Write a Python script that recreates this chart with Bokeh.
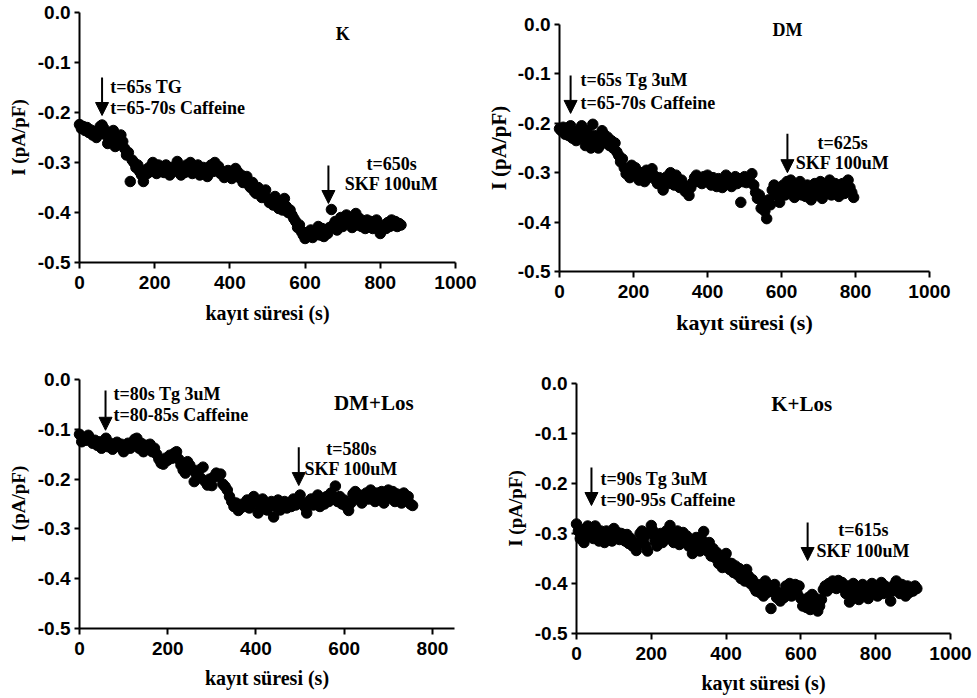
from math import pi
from bokeh.plotting import figure
from bokeh.layouts import column, row
from bokeh.models import Range1d, FixedTicker, NumeralTickFormatter, Label, Arrow, NormalHead
from bokeh.embed import file_html
from bokeh.resources import INLINE

# ---------------- data (current density, pA/pF, sampled every STEP s) ----------------
STEP = 5

k_current = [
    -0.224, -0.232, -0.228, -0.236, -0.230, -0.240, -0.235, -0.245, -0.238, -0.250,
    -0.236, -0.228, -0.225, -0.232, -0.245, -0.262, -0.240, -0.255, -0.236, -0.268,
    -0.250, -0.262, -0.245, -0.258, -0.272, -0.285, -0.280, -0.338, -0.295, -0.300,
    -0.310, -0.305, -0.318, -0.325, -0.338, -0.315, -0.322, -0.310, -0.318, -0.300,
    -0.312, -0.322, -0.305, -0.318, -0.310, -0.320, -0.305, -0.315, -0.325, -0.310,
    -0.318, -0.308, -0.298, -0.315, -0.325, -0.310, -0.320, -0.305, -0.315, -0.300,
    -0.322, -0.308, -0.316, -0.305, -0.325, -0.318, -0.310, -0.322, -0.328, -0.315,
    -0.305, -0.318, -0.300, -0.312, -0.308, -0.322, -0.318, -0.330, -0.325, -0.316,
    -0.320, -0.332, -0.322, -0.312, -0.318, -0.330, -0.325, -0.340, -0.335, -0.328,
    -0.345, -0.350, -0.340, -0.358, -0.362, -0.350, -0.358, -0.370, -0.365, -0.355,
    -0.372, -0.380, -0.375, -0.385, -0.368, -0.378, -0.392, -0.380, -0.395, -0.372,
    -0.388, -0.400, -0.395, -0.405, -0.412, -0.418, -0.430, -0.425, -0.438, -0.445,
    -0.452, -0.440, -0.448, -0.435, -0.450, -0.438, -0.442, -0.428, -0.445, -0.432,
    -0.448, -0.435, -0.442, -0.430, -0.394, -0.425, -0.418, -0.435, -0.420, -0.410,
    -0.428, -0.415, -0.405, -0.422, -0.410, -0.430, -0.418, -0.402, -0.425, -0.412,
    -0.428, -0.420, -0.432, -0.415, -0.425, -0.418, -0.432, -0.425, -0.415, -0.430,
    -0.442, -0.435, -0.425, -0.432, -0.420, -0.428, -0.415, -0.425, -0.418, -0.428,
    -0.422, -0.425,
]

dm_current = [
    -0.211, -0.215, -0.208, -0.222, -0.212, -0.225, -0.205, -0.230, -0.218, -0.235,
    -0.222, -0.212, -0.205, -0.228, -0.245, -0.215, -0.235, -0.250, -0.202, -0.225,
    -0.238, -0.250, -0.230, -0.215, -0.222, -0.240, -0.228, -0.245, -0.235, -0.250,
    -0.240, -0.258, -0.265, -0.278, -0.272, -0.290, -0.302, -0.295, -0.310, -0.285,
    -0.298, -0.290, -0.305, -0.315, -0.300, -0.312, -0.318, -0.295, -0.310, -0.300,
    -0.292, -0.305, -0.315, -0.322, -0.310, -0.325, -0.335, -0.318, -0.308, -0.322,
    -0.300, -0.312, -0.325, -0.305, -0.318, -0.330, -0.315, -0.325, -0.338, -0.328,
    -0.346, -0.330, -0.320, -0.310, -0.305, -0.318, -0.312, -0.322, -0.308, -0.315,
    -0.305, -0.318, -0.325, -0.310, -0.318, -0.328, -0.312, -0.320, -0.330, -0.315,
    -0.305, -0.322, -0.312, -0.328, -0.318, -0.308, -0.322, -0.312, -0.360, -0.318,
    -0.308, -0.320, -0.312, -0.318, -0.302, -0.325, -0.340, -0.352, -0.345, -0.372,
    -0.360, -0.378, -0.393, -0.355, -0.365, -0.335, -0.325, -0.345, -0.330, -0.360,
    -0.340, -0.325, -0.345, -0.318, -0.330, -0.315, -0.335, -0.350, -0.325, -0.340,
    -0.318, -0.345, -0.330, -0.348, -0.325, -0.340, -0.355, -0.335, -0.322, -0.345,
    -0.330, -0.318, -0.352, -0.335, -0.325, -0.342, -0.315, -0.345, -0.330, -0.322,
    -0.340, -0.348, -0.330, -0.322, -0.342, -0.335, -0.315, -0.330, -0.340, -0.350,
]

dmlos_current = [
    -0.110, -0.125, -0.118, -0.122, -0.112, -0.120, -0.128, -0.122, -0.132, -0.125,
    -0.138, -0.130, -0.118, -0.135, -0.128, -0.140, -0.132, -0.126, -0.135, -0.130,
    -0.145, -0.135, -0.128, -0.138, -0.132, -0.120, -0.118, -0.138, -0.128, -0.145,
    -0.132, -0.140, -0.130, -0.145, -0.138, -0.150, -0.160, -0.168, -0.170, -0.158,
    -0.162, -0.152, -0.158, -0.148, -0.145, -0.160, -0.172, -0.182, -0.188, -0.165,
    -0.172, -0.180, -0.205, -0.190, -0.182, -0.198, -0.176, -0.205, -0.212, -0.200,
    -0.213, -0.195, -0.188, -0.195, -0.190, -0.210, -0.215, -0.222, -0.235, -0.245,
    -0.255, -0.248, -0.263, -0.258, -0.250, -0.255, -0.242, -0.258, -0.250, -0.235,
    -0.245, -0.268, -0.255, -0.240, -0.248, -0.262, -0.250, -0.245, -0.276, -0.255,
    -0.242, -0.262, -0.250, -0.245, -0.258, -0.248, -0.255, -0.240, -0.252, -0.245,
    -0.232, -0.248, -0.255, -0.268, -0.245, -0.240, -0.252, -0.245, -0.232, -0.255,
    -0.240, -0.250, -0.235, -0.245, -0.228, -0.240, -0.214, -0.245, -0.235, -0.250,
    -0.242, -0.255, -0.263, -0.248, -0.230, -0.225, -0.240, -0.232, -0.248, -0.238,
    -0.228, -0.240, -0.222, -0.235, -0.245, -0.228, -0.240, -0.225, -0.248, -0.232,
    -0.222, -0.238, -0.225, -0.245, -0.230, -0.238, -0.248, -0.228, -0.240, -0.235,
    -0.250, -0.253,
]

klos_current = [
    -0.281, -0.295, -0.310, -0.300, -0.318, -0.290, -0.285, -0.305, -0.298, -0.310,
    -0.285, -0.300, -0.315, -0.295, -0.302, -0.318, -0.295, -0.310, -0.300, -0.315,
    -0.290, -0.305, -0.298, -0.312, -0.300, -0.308, -0.315, -0.302, -0.320, -0.310,
    -0.325, -0.318, -0.334, -0.320, -0.300, -0.295, -0.310, -0.325, -0.335, -0.300,
    -0.284, -0.295, -0.315, -0.325, -0.308, -0.300, -0.318, -0.305, -0.295, -0.310,
    -0.284, -0.300, -0.318, -0.305, -0.295, -0.322, -0.310, -0.298, -0.315, -0.305,
    -0.325, -0.318, -0.340, -0.330, -0.308, -0.318, -0.335, -0.312, -0.296, -0.320,
    -0.335, -0.318, -0.345, -0.330, -0.348, -0.338, -0.360, -0.345, -0.368, -0.352,
    -0.340, -0.358, -0.372, -0.360, -0.378, -0.365, -0.382, -0.370, -0.390, -0.378,
    -0.395, -0.372, -0.385, -0.400, -0.392, -0.408, -0.415, -0.402, -0.418, -0.408,
    -0.425, -0.395, -0.418, -0.405, -0.450, -0.412, -0.402, -0.428, -0.418, -0.435,
    -0.420, -0.428, -0.405, -0.418, -0.400, -0.425, -0.410, -0.402, -0.420, -0.405,
    -0.430, -0.445, -0.435, -0.448, -0.428, -0.452, -0.422, -0.440, -0.430, -0.455,
    -0.445, -0.432, -0.412, -0.405, -0.415, -0.400, -0.408, -0.395, -0.402, -0.410,
    -0.394, -0.405, -0.398, -0.410, -0.420, -0.405, -0.437, -0.415, -0.400, -0.425,
    -0.410, -0.432, -0.415, -0.402, -0.420, -0.408, -0.430, -0.412, -0.400, -0.418,
    -0.408, -0.425, -0.412, -0.398, -0.420, -0.405, -0.418, -0.410, -0.435, -0.415,
    -0.402, -0.395, -0.410, -0.420, -0.402, -0.412, -0.425, -0.405, -0.418, -0.408,
    -0.415, -0.405, -0.410,
]

y_ticks = [-0.5, -0.4, -0.3, -0.2, -0.1, 0.0]
x_ticks_1000 = [0, 200, 400, 600, 800, 1000]
x_ticks_800 = [0, 200, 400, 600, 800]

x_label = "kayıt süresi (s)"
y_label = "I (pA/pF)"

panels = [
    dict(values=k_current, title="K", xmax=1000, xticks=x_ticks_1000,
         tg=("t=65s TG", "t=65-70s Caffeine"), skf=("t=650s", "SKF 100uM")),
    dict(values=dm_current, title="DM", xmax=1000, xticks=x_ticks_1000,
         tg=("t=65s Tg 3uM", "t=65-70s Caffeine"), skf=("t=625s", "SKF 100uM")),
    dict(values=dmlos_current, title="DM+Los", xmax=850, xticks=x_ticks_800,
         tg=("t=80s Tg 3uM", "t=80-85s Caffeine"), skf=("t=580s", "SKF 100uM")),
    dict(values=klos_current, title="K+Los", xmax=1000, xticks=x_ticks_1000,
         tg=("t=90s Tg 3uM", "t=90-95s Caffeine"), skf=("t=615s", "SKF 100uM")),
]

# ---------------- layout (page pixels) / annotation placement ----------------
# ox, oy: canvas origin on the page; x0px/xmpx: page x of 0 and xmax;
# y0px/y5px: page y of 0.0 and -0.5; xl_dy: x-axis title offset below axis (px)
layout_cfg = [
    dict(ox=0, oy=0, w=480, h=340, x0px=79, xmpx=455, y0px=12, y5px=262,
         xl_size="20px", yl_size="19px", xl_dy=50,
         title_pos=(700, -0.042), title_size="18px",
         a1=(60, -0.13, -0.206), t1=(82, -0.148, -0.19),
         a2=(662, -0.306, -0.382), t2=(830, -0.302, -0.342)),
    dict(ox=480, oy=0, w=496, h=340, x0px=559, xmpx=929, y0px=24, y5px=271,
         xl_size="22px", yl_size="21px", xl_dy=51,
         title_pos=(616, -0.012), title_size="18px",
         a1=(30, -0.103, -0.18), t1=(57, -0.113, -0.158),
         a2=(616, -0.221, -0.30), t2=(765, -0.239, -0.281)),
    dict(ox=0, oy=340, w=480, h=356, x0px=79, xmpx=454, y0px=379, y5px=628,
         xl_size="20px", yl_size="19px", xl_dy=49,
         title_pos=(667, -0.048), title_size="21px",
         a1=(59, -0.022, -0.102), t1=(77, -0.03, -0.072),
         a2=(497, -0.136, -0.213), t2=(616, -0.139, -0.179)),
    dict(ox=480, oy=340, w=496, h=356, x0px=576, xmpx=950, y0px=383, y5px=633,
         xl_size="20px", yl_size="19px", xl_dy=49,
         title_pos=(602, -0.04), title_size="21px",
         a1=(40, -0.168, -0.244), t1=(64, -0.19, -0.232),
         a2=(618, -0.278, -0.354), t2=(767, -0.292, -0.334)),
]

YLAB_DX = 61     # px from y axis to y-axis title centre
SERIF = "Liberation Serif"
SANS = "Liberation Sans"


def make_panel(d, c):
    sx = (c["xmpx"] - c["x0px"]) / d["xmax"]          # px per second
    sy = (c["y5px"] - c["y0px"]) / 0.5                # px per pA/pF
    x_start = -(c["x0px"] - c["ox"]) / sx
    x_end = x_start + c["w"] / sx
    y_end = (c["y0px"] - c["oy"]) / sy
    y_start = y_end - c["h"] / sy
    xs = [i * STEP for i in range(len(d["values"]))]

    p = figure(width=c["w"], height=c["h"], output_backend="svg", toolbar_location=None,
               x_range=Range1d(x_start, x_end), y_range=Range1d(y_start, y_end),
               min_border_left=0, min_border_right=0,
               min_border_top=0, min_border_bottom=0)
    p.outline_line_color = None
    p.grid.visible = False
    p.background_fill_color = "white"
    p.border_fill_color = "white"

    p.scatter(xs, d["values"], size=10.5, marker="circle",
              fill_color="black", line_color="black")

    # axes, drawn at x = 0 and y = -0.5
    p.xaxis.ticker = FixedTicker(ticks=d["xticks"])
    p.xaxis.bounds = (0, d["xmax"])
    p.xaxis.fixed_location = -0.5
    p.yaxis.ticker = FixedTicker(ticks=y_ticks)
    p.yaxis.bounds = (-0.5, 0.0)
    p.yaxis.formatter = NumeralTickFormatter(format="0.0")
    p.yaxis.fixed_location = 0
    for ax in (p.xaxis, p.yaxis):
        ax.axis_line_width = 2
        ax.axis_line_color = "black"
        ax.major_tick_line_width = 2
        ax.major_tick_line_color = "black"
        ax.major_tick_in = 0
        ax.minor_tick_line_color = None
        ax.major_label_text_font = SANS
        ax.major_label_text_font_style = "bold"
        ax.major_label_text_font_size = "19px"
        ax.major_label_text_color = "black"
    p.xaxis.major_tick_out = 6
    p.yaxis.major_tick_out = 5
    p.xaxis.major_label_standoff = 7
    p.yaxis.major_label_standoff = 4

    # axis titles
    p.add_layout(Label(x=d["xmax"] / 2, y=-0.5 - c["xl_dy"] / sy, text=x_label,
                       text_align="center", text_baseline="middle",
                       text_font=SERIF, text_font_style="bold",
                       text_font_size=c["xl_size"], text_color="black"))
    p.add_layout(Label(x=-YLAB_DX / sx, y=-0.25, text=y_label, angle=pi / 2,
                       text_align="center", text_baseline="middle",
                       text_font=SERIF, text_font_style="bold",
                       text_font_size=c["yl_size"], text_color="black"))

    # panel title
    tx, ty = c["title_pos"]
    p.add_layout(Label(x=tx, y=ty, text=d["title"], text_align="center",
                       text_baseline="middle", text_font=SERIF, text_font_style="bold",
                       text_font_size=c["title_size"], text_color="black"))

    # arrows
    for (ax_, y0, y1) in (c["a1"], c["a2"]):
        p.add_layout(Arrow(x_start=ax_, y_start=y0, x_end=ax_, y_end=y1,
                           line_width=2, line_color="black",
                           end=NormalHead(size=13, fill_color="black",
                                          line_color="black", line_width=1)))

    # TG / caffeine annotation (left aligned)
    x1, ya, yb = c["t1"]
    for txt, yy in zip(d["tg"], (ya, yb)):
        p.add_layout(Label(x=x1, y=yy, text=txt, text_align="left", text_baseline="middle",
                           text_font=SERIF, text_font_style="bold",
                           text_font_size="18px", text_color="black"))
    # SKF annotation (centred)
    x2, ya, yb = c["t2"]
    for txt, yy in zip(d["skf"], (ya, yb)):
        p.add_layout(Label(x=x2, y=yy, text=txt, text_align="center", text_baseline="middle",
                           text_font=SERIF, text_font_style="bold",
                           text_font_size="18px", text_color="black"))
    return p


plots = [make_panel(d, c) for d, c in zip(panels, layout_cfg)]
layout = column(row(plots[0], plots[1]), row(plots[2], plots[3]))

open("out.html", "w").write(file_html(layout, INLINE))
